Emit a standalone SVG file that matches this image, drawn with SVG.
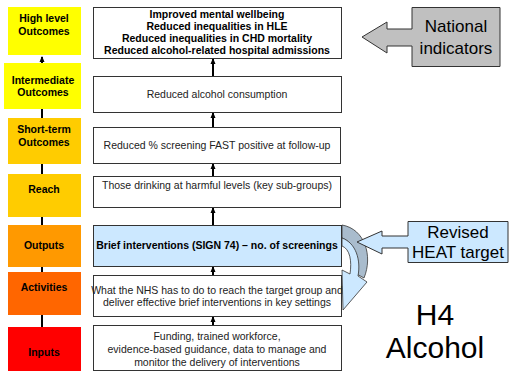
<svg xmlns="http://www.w3.org/2000/svg" width="510" height="375" viewBox="0 0 510 375">
  <defs>
    <marker id="arrow" markerWidth="6" markerHeight="6" refX="5" refY="3" orient="auto" markerUnits="userSpaceOnUse">
      <path d="M0,0.5 L6,3 L0,5.5 Z" fill="#000"/>
    </marker>
    <style>
      .lvl { stroke: none; }
      .lvl-t { font-family: "Liberation Sans", Arial, sans-serif; font-size: 10.5px; font-weight: bold; text-anchor: middle; fill: #000; }
      .box { fill: #fff; stroke: #333; stroke-width: 1; }
      .box-t { font-family: "Liberation Sans", Arial, sans-serif; font-size: 10.5px; text-anchor: middle; fill: #222; }
      .bold { font-weight: bold; fill: #000; }
      .conn { stroke: #000; stroke-width: 2; fill: none; marker-end: url(#arrow); }
      .big { font-family: "Liberation Sans", Arial, sans-serif; text-anchor: middle; fill: #000; }
    </style>
  </defs>

  <!-- connectors (drawn first so the level boxes sit on top of the spine) -->
  <g id="connectors">
    <line class="conn" x1="42" y1="327" x2="42" y2="57"/>
    <line class="conn" x1="213" y1="76" x2="213" y2="59"/>
    <line class="conn" x1="213" y1="127" x2="213" y2="113"/>
    <line class="conn" x1="213" y1="176" x2="213" y2="164"/>
    <line class="conn" x1="213" y1="225" x2="213" y2="208"/>
    <line class="conn" x1="213" y1="275" x2="213" y2="267"/>
    <line class="conn" x1="213" y1="325" x2="213" y2="317"/>
  </g>

  <!-- level column -->
  <g id="lvl-high"><rect class="lvl" x="8" y="7" width="73" height="48" fill="#ffff00"/>
    <text class="lvl-t" x="44" y="22">High level</text><text class="lvl-t" x="44" y="35">Outcomes</text></g>
  <g id="lvl-intermediate"><rect class="lvl" x="4" y="63" width="77" height="46" fill="#ffff00"/>
    <text class="lvl-t" x="43" y="84">Intermediate</text><text class="lvl-t" x="43" y="96">Outcomes</text></g>
  <g id="lvl-short"><rect class="lvl" x="8" y="118" width="73" height="46" fill="#ffcc00"/>
    <text class="lvl-t" x="44" y="133">Short-term</text><text class="lvl-t" x="44" y="146">Outcomes</text></g>
  <g id="lvl-reach"><rect class="lvl" x="8" y="174" width="73" height="43" fill="#ffcc00"/>
    <text class="lvl-t" x="44" y="193">Reach</text></g>
  <g id="lvl-outputs"><rect class="lvl" x="8" y="225" width="73" height="42" fill="#ff9900"/>
    <text class="lvl-t" x="44" y="249">Outputs</text></g>
  <g id="lvl-activities"><rect class="lvl" x="8" y="272" width="73" height="43" fill="#ff6600"/>
    <text class="lvl-t" x="44" y="291">Activities</text></g>
  <g id="lvl-inputs"><rect class="lvl" x="8" y="327" width="73" height="44" fill="#ff0000"/>
    <text class="lvl-t" x="44" y="356">Inputs</text></g>

  <!-- logic model boxes -->
  <g id="box-high">
    <rect class="box" x="93.5" y="7.5" width="248" height="51"/>
    <text class="box-t bold" x="217" y="18">Improved mental wellbeing</text>
    <text class="box-t bold" x="217" y="30">Reduced inequalities in HLE</text>
    <text class="box-t bold" x="217" y="42">Reduced inequalities in CHD mortality</text>
    <text class="box-t bold" x="217" y="54">Reduced alcohol-related hospital admissions</text>
  </g>
  <g id="box-consumption">
    <rect class="box" x="93.5" y="76.5" width="248" height="36"/>
    <text class="box-t" x="217" y="98">Reduced alcohol consumption</text>
  </g>
  <g id="box-screening">
    <rect class="box" x="93.5" y="127.5" width="247" height="36"/>
    <text class="box-t" x="217" y="149">Reduced % screening FAST positive at follow-up</text>
  </g>
  <g id="box-reach">
    <rect class="box" x="93.5" y="176.5" width="247" height="31"/>
    <text class="box-t" x="217" y="189">Those drinking at harmful levels (key sub-groups)</text>
  </g>
  <g id="box-outputs">
    <rect class="box" x="93.5" y="225.5" width="248" height="41" style="fill:#cce8ff"/>
    <text class="box-t bold" x="217" y="249">Brief interventions (SIGN 74) – no. of screenings</text>
  </g>
  <g id="box-activities">
    <rect class="box" x="93.5" y="275.5" width="248" height="41"/>
    <text class="box-t" x="217" y="294">What the NHS has to do to reach the target group and</text>
    <text class="box-t" x="217" y="306">deliver effective brief interventions in key settings</text>
  </g>
  <g id="box-inputs">
    <rect class="box" x="93.5" y="325.5" width="248" height="45"/>
    <text class="box-t" x="217" y="340">Funding, trained workforce,</text>
    <text class="box-t" x="217" y="353">evidence-based guidance, data  to manage and</text>
    <text class="box-t" x="217" y="366">monitor the delivery of interventions</text>
  </g>

  <!-- callouts -->
  <g id="national-indicators">
    <path d="M412,7.5 H500 V66.5 H412 V46 H387 V53 L362,37 L387,22 V29 H412 Z" fill="#c0c0c0" stroke="#333" stroke-width="1"/>
    <text class="big" x="456" y="32" font-size="17">National</text>
    <text class="big" x="456" y="54" font-size="17">indicators</text>
  </g>
  <g id="loop-arrow">
    <!-- back face of the curved arrow -->
    <path d="M342,225 C365,229 373,256 364,278 L353,272 C357,257 355,243 342,238 Z" fill="#a9bccd" stroke="#333" stroke-width="0.8"/>
    <!-- front face with the head -->
    <path d="M342,238 C356,243 361,260 358,276 L367,282 L343,310 L342,270 L350,274 C352,261 350,249 342,246 Z" fill="#cce8ff" stroke="#333" stroke-width="0.8"/>
  </g>
  <g id="heat-target">
    <path d="M408,221.5 H508 V262.5 H408 V248 H382 V254 L357,242 L382,231 V236 H408 Z" fill="#cce8ff" stroke="#333" stroke-width="1"/>
    <text class="big" x="458" y="238" font-size="17">Revised</text>
    <text class="big" x="458" y="258" font-size="17">HEAT target</text>
  </g>
  <g id="title">
    <text class="big" x="435" y="325" font-size="30">H4</text>
    <text class="big" x="435" y="358" font-size="30">Alcohol</text>
  </g>
</svg>
